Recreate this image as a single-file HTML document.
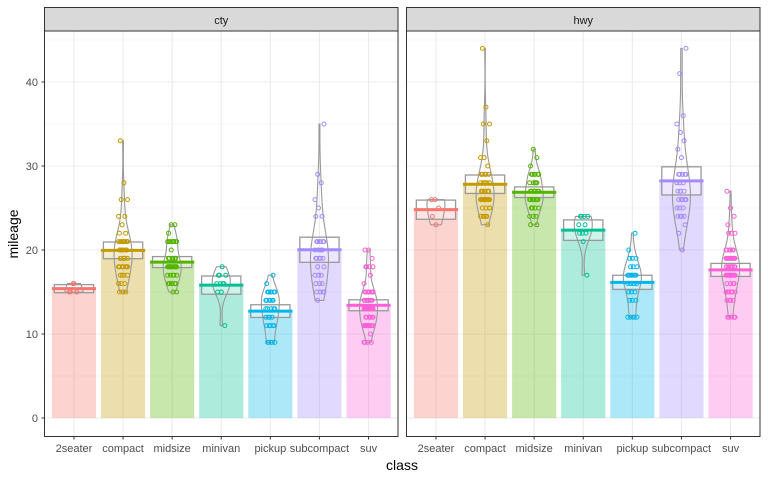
<!DOCTYPE html>
<html><head><meta charset="utf-8"><style>
html,body{margin:0;padding:0;background:#fff}
svg{display:block;font-family:"Liberation Sans",Arial,sans-serif}
</style></head><body>
<svg id="chart" width="768" height="480"></svg>
<script>
const categories=["2seater","compact","midsize","minivan","pickup","subcompact","suv"];
const panels=["cty","hwy"];
const yTicks=[0,10,20,30,40];
const ctyValues=[
[15,16,15,15,16],
[33,28,26,26,24,24,23,22,22,21,21,21,21,21,21,21,21,20,20,20,20,20,19,19,19,19,19,18,18,18,18,18,18,17,17,17,16,16,16,17,15,15,15,21,20,19,18],
[23,23,22,21,21,21,21,21,21,21,21,20,19,19,19,19,19,19,18,18,18,18,18,18,18,18,18,18,17,17,17,17,17,16,16,16,16,16,16,15,15],
[18,17,17,16,16,16,16,15,15,11,17],
[17,16,15,15,15,15,15,15,14,14,14,14,14,14,13,13,13,13,12,12,12,11,11,11,11,11,9,9,9,9,9,13,12],
[35,29,28,26,25,24,24,21,21,21,21,21,21,20,20,20,20,19,19,19,19,19,18,18,17,17,17,16,16,16,15,15,15,15,14],
[20,20,19,18,18,18,18,17,16,15,15,15,15,15,15,15,15,14,14,14,14,14,14,14,14,13,13,13,13,13,13,13,13,13,13,12,12,12,12,12,12,11,11,11,11,11,11,11,11,11,11,10,9,9,9,9,14,13,13,12,15,11]
];
const hwyValues=[
[26,26,25,24,23],
[44,37,35,35,33,31,31,30,29,29,29,29,29,28,28,28,28,27,27,27,27,27,27,26,26,26,26,26,26,26,26,26,26,25,25,25,24,24,24,24,23,29,28,27,26,24,25],
[32,31,30,29,29,29,29,29,29,28,28,28,28,27,27,27,27,27,27,26,26,26,26,26,26,26,26,25,25,25,25,24,24,24,23,23,27,26,25,28,29],
[24,24,24,23,23,22,22,22,21,17,24],
[22,20,19,19,19,18,18,18,17,17,17,17,17,17,17,17,16,16,16,16,16,15,15,15,14,14,14,12,12,12,12,12,17],
[44,41,36,35,34,33,32,31,29,29,29,29,28,28,28,27,27,27,26,26,26,26,26,25,25,25,24,24,24,24,23,22,20,26,29],
[27,25,24,23,22,22,22,20,20,20,20,20,20,19,19,19,19,19,19,19,19,19,19,18,18,18,18,18,18,18,18,17,17,17,17,17,17,17,17,17,17,17,17,16,16,16,16,15,15,15,15,15,15,14,14,14,14,12,12,12,12,12]
];
const colors=["#F8766D","#C49A00","#53B400","#00C094","#00B6EB","#A58AFF","#FB61D7"];
const NS="http://www.w3.org/2000/svg";
const svg=document.getElementById('chart');
function mk(tag,attrs,parent){const e=document.createElementNS(NS,tag);for(const k in attrs)e.setAttribute(k,attrs[k]);(parent||svg).appendChild(e);return e;}
const panelX=[44.5,406.5],panelW=353.5,pTop=31,pBottom=436.5;
const step=panelW/7.2;
const y=v=>418-v*8.4;
const xs=(p,i)=>panelX[p]+step*(0.6+i);
const allData=[ctyValues,hwyValues];
yTicks.forEach(t=>{
 const lab=mk('text',{x:38,y:y(t)+4,'text-anchor':'end','font-size':11,fill:'#4d4d4d'});
 lab.textContent=t;
 
 
 const tk=mk('line',{x1:41.5,x2:44.5,y1:y(t),y2:y(t),stroke:'#333','stroke-width':1});
 
 
});
panels.forEach((pn,p)=>{
 const g=mk('g',{});
 
 
 const px=panelX[p];
 mk('rect',{x:px,y:pTop,width:panelW,height:pBottom-pTop,fill:'#fff'},g);
 [5,15,25,35,45].forEach(v=>mk('line',{x1:px,x2:px+panelW,y1:y(v),y2:y(v),stroke:'#f0f0f0','stroke-width':0.6},g));
 yTicks.forEach(v=>mk('line',{x1:px,x2:px+panelW,y1:y(v),y2:y(v),stroke:'#ebebeb','stroke-width':1.1},g));
 categories.forEach((c,i)=>mk('line',{x1:xs(p,i),x2:xs(p,i),y1:pTop,y2:pBottom,stroke:'#ebebeb','stroke-width':1.1},g));
 const data=allData[p];
 categories.forEach((c,i)=>{
  const vals=data[i],n=vals.length,cx=xs(p,i);
  const mean=vals.reduce((a,b)=>a+b,0)/n;
  const sd=Math.sqrt(vals.reduce((a,b)=>a+(b-mean)*(b-mean),0)/(n-1));
  const se=sd/Math.sqrt(n);
  const cg=mk('g',{},g);
  
  
  const bar=mk('rect',{x:cx-step*0.45,y:y(mean),width:step*0.9,height:y(0)-y(mean),fill:colors[i],'fill-opacity':0.32},cg);
  
  
  const lo=mean-1.96*se,hi=mean+1.96*se;
  const box=mk('rect',{x:cx-step*0.4,y:y(hi),width:step*0.8,height:y(lo)-y(hi),fill:'#fff','fill-opacity':0.4,stroke:'#999','stroke-width':1.3},cg);
  
  
  const mn=Math.min(...vals),mx=Math.max(...vals);
  const bw=Math.max(0.5,1.06*sd*Math.pow(n,-0.2));
  const pts=[];let maxd=0;
  for(let k=0;k<=60;k++){const v=mn+(mx-mn)*k/60;let d=0;vals.forEach(q=>{const z=(v-q)/bw;d+=Math.exp(-0.5*z*z);});pts.push([v,d]);if(d>maxd)maxd=d;}
  const hw=9;
  let dstr='';
  pts.forEach((pt,k)=>{dstr+=(k?'L':'M')+(cx+pt[1]/maxd*hw).toFixed(2)+','+y(pt[0]).toFixed(2);});
  for(let k=pts.length-1;k>=0;k--){dstr+='L'+(cx-pts[k][1]/maxd*hw).toFixed(2)+','+y(pts[k][0]).toFixed(2);}
  const vio=mk('path',{d:dstr+'Z',fill:'none',stroke:'#999','stroke-width':1.1},cg);
  
  
  vals.forEach((v,k)=>{
   const off=(((k*37+i*13)%11)-5)*0.9;
   const pt=mk('circle',{cx:cx+off,cy:y(v),r:2,fill:'none',stroke:colors[i],'stroke-width':1},cg);
   
   
  });
  const ml=mk('line',{x1:cx-step*0.45,x2:cx+step*0.45,y1:y(mean),y2:y(mean),stroke:colors[i],'stroke-width':3},cg);
  
  
  mk('line',{x1:cx,x2:cx,y1:pBottom,y2:pBottom+3,stroke:'#333'},g);
  const xl=mk('text',{x:cx,y:452,'text-anchor':'middle','font-size':11,fill:'#4d4d4d'},g);
  xl.textContent=c;
  
  
 });
 mk('rect',{x:px,y:pTop,width:panelW,height:pBottom-pTop,fill:'none',stroke:'#333','stroke-width':1},g);
 const st=mk('rect',{x:px,y:7.5,width:panelW,height:pTop-7.5,fill:'#d9d9d9',stroke:'#333','stroke-width':1},g);
 
 
 const stt=mk('text',{x:px+panelW/2,y:24,'text-anchor':'middle','font-size':11,fill:'#1a1a1a'},g);
 stt.textContent=pn;
 
 
});
const xt=mk('text',{x:402,y:470,'text-anchor':'middle','font-size':14,fill:'#000'});
xt.textContent='class';


const yt=mk('text',{x:0,y:0,'text-anchor':'middle','font-size':14,fill:'#000',transform:'translate(18,234) rotate(-90)'});
yt.textContent='mileage';


</script>
</body></html>
